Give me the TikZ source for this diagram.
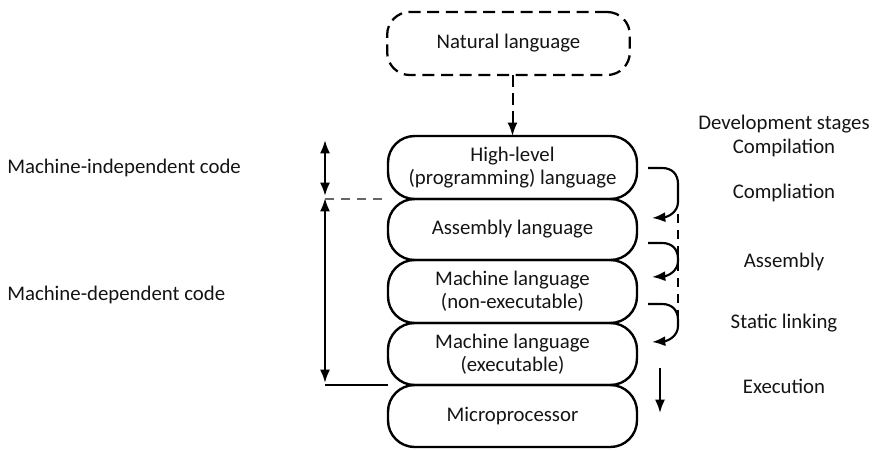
\documentclass[tikz,border=0pt]{standalone}
\usepackage{fontspec}
\setmainfont{Carlito}
\usetikzlibrary{arrows.meta,calc}

\begin{document}
\begin{tikzpicture}[x=0.75pt,y=-0.75pt,
  every node/.style={font=\fontsize{15.6}{17.5}\selectfont, text=black!92},
  stagebox/.style={draw, line width=1.8pt, rounded corners=20pt,
    minimum width=186.75pt, inner sep=0pt, outer sep=0pt, align=center},
  natbox/.style={stagebox, dash pattern=on 9pt off 5pt, line width=1.7pt,
    rounded corners=17pt, minimum width=182pt, minimum height=47.25pt},
  lbl/.style={align=center, inner sep=0pt},
  tip/.style={-{Latex[length=10pt,width=7.5pt]}},
  flow/.style={tip, line width=1.6pt},
  dim/.style={{Latex[length=10pt,width=7.5pt]}-{Latex[length=10pt,width=7.5pt]}, line width=1.7pt},
]
\useasboundingbox (0,0) rectangle (874,450);

% the stack of language levels
\node[natbox] (nat) at (508.5,43.5) {Natural language};
\node[stagebox, minimum height=47.25pt] (hl)  at (512.5,167.5) {High-level\\(programming) language};
\node[stagebox, minimum height=45.75pt] (asm) at (512.5,229.5) {Assembly language};
\node[stagebox, minimum height=47.25pt] (mne) at (512.5,291.5) {Machine language\\(non-executable)};
\node[stagebox, minimum height=46.5pt]  (mex) at (512.5,354)   {Machine language\\(executable)};
\node[stagebox, minimum height=46.5pt]  (mic) at (512.5,416)   {Microprocessor};

\draw[flow, line width=1.5pt, dash pattern=on 9pt off 4.5pt] (nat.south -| hl.north) -- (hl.north);

% code classes on the left
\node[lbl, anchor=west] (mi) at (7,168) {Machine-independent code};
\node[lbl, anchor=west] (md) at (7,295) {Machine-dependent code};

\coordinate (lx) at (325,0);
\draw[dim] ($(hl.north -| lx)+(0,4)$) -- ($(hl.south -| lx)+(0,-3)$);
\draw[dim] ($(hl.south -| lx)+(0,-1)$) -- ($(mex.south -| lx)+(0,-2)$);
\draw[line width=1.4pt, black!60, dash pattern=on 7pt off 5pt] (hl.south -| lx) -- (hl.south west);
\draw[line width=1.3pt] (mex.south -| lx) -- (mex.south west);

% development stages on the right
\node[lbl] (dev) at (784,136) {Development stages\\Compilation};
\node[lbl] (comp) at (784,193) {Compliation};
\node[lbl] (asmb) at (784,262) {Assembly};
\node[lbl] (link) at (784,323) {Static linking};
\node[lbl] (exec) at (784,386) {Execution};

\coordinate (rail) at (678,0);
\coordinate (s1) at ($(hl.east)+(11,0.5)$);
\coordinate (e1) at ($(asm.east)+(15,-11.5)$);
\coordinate (s2) at ($(asm.east)+(11,13.5)$);
\coordinate (e2) at ($(mne.east)+(15,-14.5)$);
\coordinate (s3) at ($(mne.east)+(11,12.5)$);
\coordinate (e3) at ($(mex.east)+(15,-12)$);

\draw[line width=1.4pt, dash pattern=on 7pt off 5pt]
  ($(e1 -| rail)+(0,-4)$) -- ($(s3 -| rail)+(0,16)$);

\foreach \s/\e in {s1/e1, s2/e2, s3/e3}{
  \draw[flow] (\s) -- ++(14,0)
    .. controls +(10,0) and +(0,-10) .. ($(\s -| rail)+(0,16)$)
    -- ($(\e -| rail)+(0,-16)$)
    .. controls +(0,10) and +(16,-1) .. (\e);
}

\draw[flow] ($(mex.east)+(23,14)$) -- ($(mic.east)+(23,-3)$);
\end{tikzpicture}
\end{document}
